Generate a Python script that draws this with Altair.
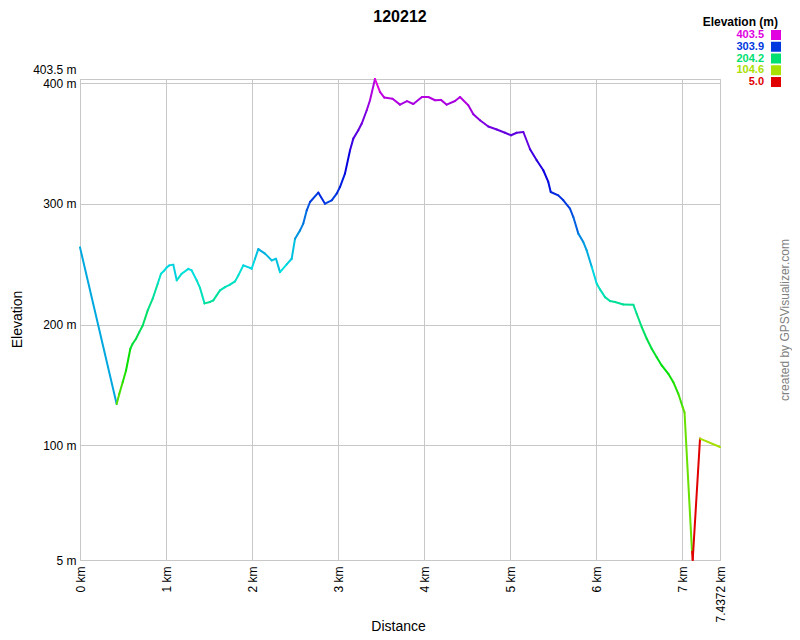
import altair as alt
import pandas as pd

FONT = "Liberation Sans"

dist_km = [0.000, 0.426, 0.457, 0.496, 0.535, 0.585, 0.612, 0.651, 0.689, 0.729,
           0.787, 0.845, 0.903, 0.941, 0.980, 1.008, 1.038, 1.084, 1.124, 1.182,
           1.259, 1.298, 1.356, 1.395, 1.447, 1.511, 1.549, 1.627, 1.685, 1.743,
           1.801, 1.840, 1.898, 1.976, 1.995, 2.034, 2.072, 2.150, 2.228, 2.278,
           2.324, 2.402, 2.460, 2.499, 2.557, 2.595, 2.635, 2.673, 2.769, 2.847,
           2.925, 2.983, 3.021, 3.079, 3.138, 3.176, 3.234, 3.274, 3.332, 3.370,
           3.428, 3.486, 3.536, 3.632, 3.719, 3.800, 3.873, 3.974, 4.048, 4.126,
           4.195, 4.261, 4.358, 4.416, 4.512, 4.571, 4.648, 4.745, 4.843, 4.939,
           5.009, 5.075, 5.152, 5.230, 5.307, 5.384, 5.442, 5.470, 5.558, 5.617,
           5.694, 5.733, 5.791, 5.849, 5.888, 5.947, 6.005, 6.043, 6.101, 6.159,
           6.217, 6.314, 6.430, 6.469, 6.528, 6.586, 6.644, 6.702, 6.760, 6.837,
           6.895, 6.953, 7.004, 7.025, 7.112, 7.120, 7.205, 7.4372]

elev_m = [264.0, 134.2, 142.7, 152.3, 162.0, 180.0, 184.2, 188.3, 193.8, 199.3,
          211.8, 221.5, 233.9, 242.2, 244.9, 247.4, 249.1, 249.7, 236.7, 242.2,
          246.2, 244.9, 236.7, 230.4, 217.6, 218.8, 220.1, 228.4, 231.1, 233.1,
          235.8, 240.8, 249.1, 247.0, 246.3, 254.6, 262.6, 258.8, 253.2, 254.6,
          243.5, 249.9, 254.6, 271.2, 278.1, 283.7, 294.7, 301.6, 309.4, 300.2,
          303.0, 308.5, 314.0, 325.1, 344.4, 354.1, 361.0, 366.6, 377.6, 385.9,
          403.5, 392.8, 388.1, 387.1, 382.3, 385.1, 382.8, 388.6, 388.6, 385.9,
          386.2, 382.2, 385.3, 388.6, 381.8, 374.3, 369.3, 364.1, 361.7, 359.0,
          356.9, 359.0, 359.6, 345.3, 336.2, 327.9, 318.2, 309.9, 307.1, 303.0,
          296.1, 289.1, 275.4, 268.4, 261.5, 247.7, 233.9, 229.2, 222.8, 219.5,
          218.7, 216.7, 216.5, 209.0, 197.9, 188.3, 180.0, 173.0, 166.2, 159.3,
          152.3, 142.7, 131.6, 127.2, 11.9, 5.0, 105.6, 98.6]

legend_values = [403.5, 303.9, 204.2, 104.6, 5.0]
legend_colors = ["#e000e0", "#0038e0", "#00e070", "#a8e000", "#e00000"]
x_ticks = [0, 1, 2, 3, 4, 5, 6, 7, 7.4372]
y_ticks = [5, 100, 200, 300, 400, 403.5]
chart_title = "120212"

seg = pd.DataFrame({
    "d": dist_km[:-1], "e": elev_m[:-1],
    "d2": dist_km[1:], "e2": elev_m[1:],
})

color_scale = alt.Scale(domain=legend_values[::-1], range=legend_colors[::-1],
                        interpolate="hsl")

x_enc = alt.X("d:Q",
              scale=alt.Scale(domain=[0, 7.4372], nice=False, zero=False),
              axis=alt.Axis(values=x_ticks, labelExpr="datum.value + ' km'",
                            labelAngle=270, labelPadding=6, labelOverlap=False,
                            title="Distance",
                            titleX=318, titleY=66, titleBaseline="middle",
                            titleFontSize=14, titleFontWeight="normal"))
y_enc = alt.Y("e:Q",
              scale=alt.Scale(domain=[5, 403.5], nice=False, zero=False),
              axis=alt.Axis(values=y_ticks, labelExpr="datum.value + ' m'",
                            labelPadding=4, labelOverlap=False,
                            labelOffset={"condition": {"test": "datum.value == 403.5", "value": -10}, "value": 0},
                            title="Elevation", titleAngle=270, titleX=-63, titleY=240,
                            titleBaseline="middle", titleAlign="center",
                            titleFontSize=14, titleFontWeight="normal"))

profile = alt.Chart(seg).mark_rule(strokeWidth=2, strokeCap="round").encode(
    x=x_enc, x2="d2:Q", y=y_enc, y2="e2:Q",
    color=alt.Color("e:Q", scale=color_scale, legend=None),
)

leg = pd.DataFrame({
    "val": legend_values,
    "label": [f"{v:.1f}" for v in legend_values],
    "idx": list(range(len(legend_values))),
})
leg_y = alt.Y("idx:O", axis=None,
              scale=alt.Scale(type="point", range=[-44, 3], padding=0))
leg_text = alt.Chart(leg).mark_text(align="right", baseline="middle", font=FONT,
                                     fontSize=11, fontWeight="bold").encode(
    x=alt.value(684), y=leg_y, text="label:N",
    color=alt.Color("val:Q", scale=color_scale, legend=None),
)
leg_sq = alt.Chart(leg).mark_square(size=100, opacity=1).encode(
    x=alt.value(696), y=leg_y,
    color=alt.Color("val:Q", scale=color_scale, legend=None),
)
leg_title = alt.Chart(pd.DataFrame({"t": ["Elevation (m)"]})).mark_text(
    align="right", baseline="middle", font=FONT, fontSize=12, fontWeight="bold",
    color="#000000").encode(x=alt.value(698), y=alt.value(-57.5), text="t:N")

title_mark = alt.Chart(pd.DataFrame({"t": [chart_title]})).mark_text(
    align="center", baseline="middle", font=FONT, fontSize=16, fontWeight="bold",
    color="#000000").encode(x=alt.value(320), y=alt.value(-62), text="t:N")

credit = alt.Chart(pd.DataFrame({"t": ["created by GPSVisualizer.com"]})).mark_text(
    angle=270, align="center", baseline="middle", font=FONT, fontSize=12,
    color="#808080").encode(x=alt.value(705), y=alt.value(241), text="t:N")

chart = alt.layer(profile, leg_text, leg_sq, leg_title, title_mark, credit).resolve_scale(
    y="independent"
).properties(
    width=640, height=481,
    autosize=alt.AutoSizeParams(type="none"),
    padding={"left": 72, "top": 71, "right": 72, "bottom": 72},
).configure_view(
    stroke="#c8c8c8", strokeWidth=1
).configure_axis(
    grid=True, gridColor="#c8c8c8", gridWidth=1, domain=False, ticks=False,
    labelFont=FONT, labelFontSize=12, labelColor="#000000",
    titleFont=FONT, titleColor="#000000",
)

chart.save("out.html", embed_options={"renderer": "svg", "actions": False})
